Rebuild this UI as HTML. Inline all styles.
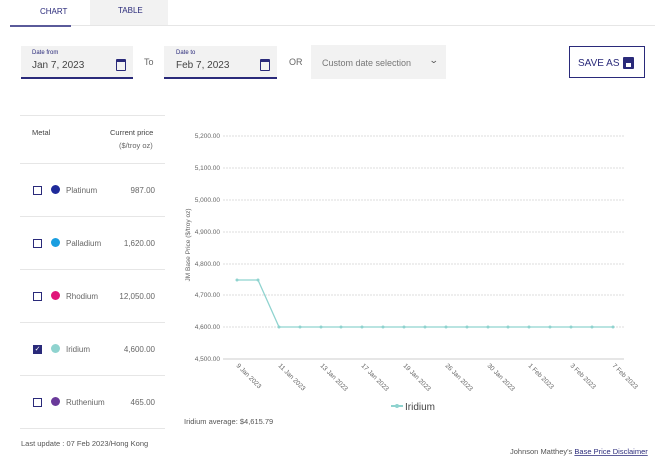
<!DOCTYPE html>
<html><head><style>
body{margin:0;width:660px;height:464px;background:#fff;font-family:"Liberation Sans",sans-serif;position:relative;overflow:hidden;color:#444}
.a{position:absolute}
.box{background:#f2f2f2}
.cb{position:absolute;left:33px;width:7px;height:7px;border:1.3px solid #2a2a7a}
.dot{position:absolute;left:51px;width:9px;height:9px;border-radius:50%}
.nm{position:absolute;left:66px;font-size:8px;color:#666}
.pr{position:absolute;right:505px;font-size:8px;color:#666}
.hl{position:absolute;left:20px;width:145px;height:1px;background:#e6e6e6}
.cal{position:absolute;width:8px;height:8px;border:1.5px solid #2a2a7a;border-top-width:3px;border-radius:1px}
</style></head><body>
<div class="a box" style="left:90px;top:0;width:78px;height:26px"></div>
<div class="a" style="left:40px;top:7px;font-size:8px;color:#2a2a7a">CHART</div>
<div class="a" style="left:118px;top:6px;font-size:8px;color:#2a2a7a">TABLE</div>
<div class="a" style="left:10px;top:25px;width:645px;height:1px;background:#e6e6e6"></div>
<div class="a" style="left:10px;top:25px;width:61px;height:2px;background:#5a5a9a"></div>

<div class="a box" style="left:21px;top:46px;width:112px;height:31px;border-bottom:2px solid #2a2a7a"></div>
<div class="a" style="left:32px;top:50px;font-size:6px;color:#2a2a7a">Date from</div>
<div class="a" style="left:32px;top:60px;font-size:10px;color:#444">Jan 7, 2023</div>
<div class="cal" style="left:116px;top:59px"></div>
<div class="a" style="left:144px;top:57px;font-size:9px;color:#666">To</div>
<div class="a box" style="left:164px;top:46px;width:113px;height:31px;border-bottom:2px solid #2a2a7a"></div>
<div class="a" style="left:176px;top:50px;font-size:6px;color:#2a2a7a">Date to</div>
<div class="a" style="left:176px;top:60px;font-size:10px;color:#444">Feb 7, 2023</div>
<div class="cal" style="left:260px;top:59px"></div>
<div class="a" style="left:289px;top:57px;font-size:9px;color:#666">OR</div>
<div class="a box" style="left:311px;top:45px;width:135px;height:34px"></div>
<div class="a" style="left:322px;top:58px;font-size:9px;color:#777">Custom date selection</div>
<div class="a" style="left:430px;top:55px;font-size:9px;color:#555;transform:scaleX(1.3)">&#8964;</div>
<div class="a" style="left:569px;top:46px;width:74px;height:30px;border:1.5px solid #2a2a7a"></div>
<div class="a" style="left:578px;top:58px;font-size:10px;color:#2a2a7a">SAVE AS</div>
<div class="a" style="left:623px;top:57px;width:11px;height:12px;background:#2a2a7a;border-radius:1px"></div>
<div class="a" style="left:626px;top:63px;width:5px;height:4px;background:#fff"></div>

<div class="hl" style="top:115px"></div>
<div class="a" style="left:32px;top:128px;font-size:7.5px;color:#444">Metal</div>
<div class="a" style="left:110px;top:128px;font-size:7.5px;color:#444">Current price</div>
<div class="a" style="left:119px;top:141px;font-size:7.5px;color:#666">($/troy oz)</div>
<div class="hl" style="top:163px"></div>
<div class="hl" style="top:216px"></div>
<div class="hl" style="top:269px"></div>
<div class="hl" style="top:322px"></div>
<div class="hl" style="top:375px"></div>
<div class="hl" style="top:428px"></div>

<div class="cb" style="top:186px"></div><div class="dot" style="top:185px;background:#1f2a9a"></div><div class="nm" style="top:186px">Platinum</div><div class="pr" style="top:186px">987.00</div>
<div class="cb" style="top:239px"></div><div class="dot" style="top:238px;background:#1a9ee0"></div><div class="nm" style="top:239px">Palladium</div><div class="pr" style="top:239px">1,620.00</div>
<div class="cb" style="top:292px"></div><div class="dot" style="top:291px;background:#e0157a"></div><div class="nm" style="top:292px">Rhodium</div><div class="pr" style="top:292px">12,050.00</div>
<div class="cb" style="top:345px;background:#2a2a7a;color:#fff;font-size:7px;line-height:7px;text-align:center">✓</div><div class="dot" style="top:344px;background:#8fd3cf"></div><div class="nm" style="top:345px">Iridium</div><div class="pr" style="top:345px">4,600.00</div>
<div class="cb" style="top:398px"></div><div class="dot" style="top:397px;background:#6a3a9a"></div><div class="nm" style="top:398px">Ruthenium</div><div class="pr" style="top:398px">465.00</div>
<div class="a" style="left:21px;top:439px;font-size:7.5px;color:#555">Last update : 07 Feb 2023/Hong Kong</div>

<svg class="a" style="left:0;top:0" width="660" height="464" font-family="Liberation Sans, sans-serif">
<g stroke="#ddd" stroke-width="1" stroke-dasharray="2,1">
<line x1="223" x2="624" y1="136" y2="136"/><line x1="223" x2="624" y1="168" y2="168"/><line x1="223" x2="624" y1="200" y2="200"/><line x1="223" x2="624" y1="232" y2="232"/><line x1="223" x2="624" y1="264" y2="264"/><line x1="223" x2="624" y1="295" y2="295"/><line x1="223" x2="624" y1="327" y2="327"/>
</g>
<line x1="223" x2="624" y1="359" y2="359" stroke="#ccc"/>
<g font-size="6.5" fill="#666" text-anchor="end">
<text x="220" y="138">5,200.00</text><text x="220" y="170">5,100.00</text><text x="220" y="202">5,000.00</text><text x="220" y="234">4,900.00</text><text x="220" y="266">4,800.00</text><text x="220" y="297">4,700.00</text><text x="220" y="329">4,600.00</text><text x="220" y="361">4,500.00</text>
</g>
<text transform="translate(190,245) rotate(-90)" font-size="6.5" fill="#666" text-anchor="middle">JM Base Price ($/troy oz)</text>
<polyline fill="none" stroke="#8fd3cf" stroke-width="1.3" points="237,280 258,280 279,327 613,327"/>
<g fill="#8fd3cf">
<circle cx="237" cy="280" r="1.5"/><circle cx="258" cy="280" r="1.5"/><circle cx="279" cy="327" r="1.5"/><circle cx="300" cy="327" r="1.5"/><circle cx="321" cy="327" r="1.5"/><circle cx="341" cy="327" r="1.5"/><circle cx="362" cy="327" r="1.5"/><circle cx="383" cy="327" r="1.5"/><circle cx="404" cy="327" r="1.5"/><circle cx="425" cy="327" r="1.5"/><circle cx="446" cy="327" r="1.5"/><circle cx="467" cy="327" r="1.5"/><circle cx="488" cy="327" r="1.5"/><circle cx="508" cy="327" r="1.5"/><circle cx="529" cy="327" r="1.5"/><circle cx="550" cy="327" r="1.5"/><circle cx="571" cy="327" r="1.5"/><circle cx="592" cy="327" r="1.5"/><circle cx="613" cy="327" r="1.5"/>
</g>
<g font-size="6.5" fill="#666">
<text transform="translate(236,366) rotate(45)">9 Jan 2023</text>
<text transform="translate(278,366) rotate(45)">11 Jan 2023</text>
<text transform="translate(320,366) rotate(45)">13 Jan 2023</text>
<text transform="translate(361,366) rotate(45)">17 Jan 2023</text>
<text transform="translate(403,366) rotate(45)">19 Jan 2023</text>
<text transform="translate(445,366) rotate(45)">26 Jan 2023</text>
<text transform="translate(487,366) rotate(45)">30 Jan 2023</text>
<text transform="translate(528,366) rotate(45)">1 Feb 2023</text>
<text transform="translate(570,366) rotate(45)">3 Feb 2023</text>
<text transform="translate(612,366) rotate(45)">7 Feb 2023</text>
</g>
<line x1="391" x2="403" y1="406" y2="406" stroke="#8fd3cf" stroke-width="2"/><circle cx="397" cy="406" r="2" fill="#8fd3cf"/>
<text x="405" y="410" font-size="10" fill="#444">Iridium</text>
<text x="184" y="424" font-size="7.5" fill="#555">Iridium average: $4,615.79</text>
<text x="510" y="454" font-size="7.5" fill="#555">Johnson Matthey's <tspan fill="#2a2a7a" text-decoration="underline">Base Price Disclaimer</tspan></text>
</svg>
</body></html>
